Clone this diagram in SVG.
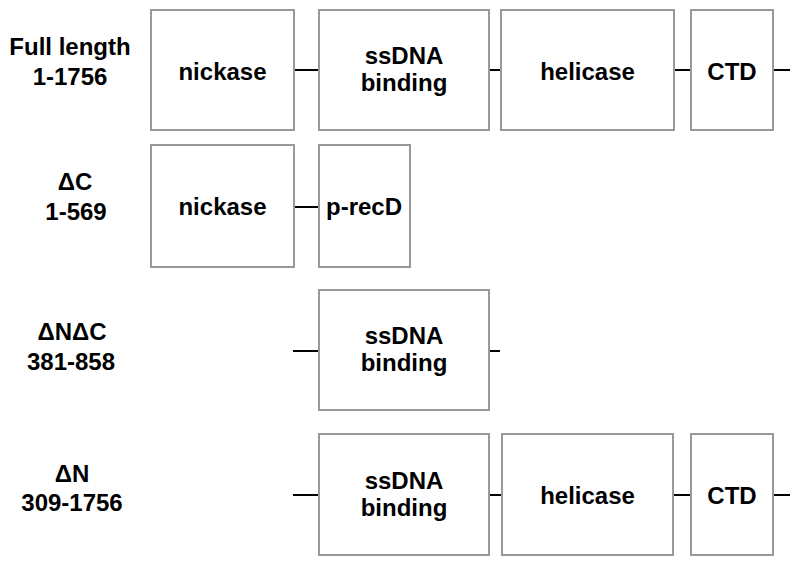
<svg xmlns="http://www.w3.org/2000/svg" width="800" height="566" viewBox="0 0 800 566">
<style>
.box{fill:#fff;stroke:#999;stroke-width:2}
.ln{stroke:#000;stroke-width:2;fill:none}
text{font-family:"Liberation Sans",Arial,sans-serif;font-weight:bold;font-size:24px;fill:#000;text-anchor:middle}
</style>
<rect width="800" height="566" fill="#fff"/>
<g id="connectors">
<line class="ln" x1="294" y1="70" x2="319" y2="70"/>
<line class="ln" x1="489" y1="70" x2="501" y2="70"/>
<line class="ln" x1="674" y1="70" x2="691" y2="70"/>
<line class="ln" x1="773" y1="70" x2="790" y2="70"/>
<line class="ln" x1="294" y1="207" x2="319" y2="207"/>
<line class="ln" x1="293" y1="351" x2="319" y2="351"/>
<line class="ln" x1="489" y1="351" x2="500" y2="351"/>
<line class="ln" x1="293" y1="495" x2="319" y2="495"/>
<line class="ln" x1="489" y1="495" x2="502" y2="495"/>
<line class="ln" x1="673" y1="495" x2="691" y2="495"/>
<line class="ln" x1="773" y1="495" x2="790" y2="495"/>
</g>
<g id="label-full"><text x="70" y="55">Full length</text><text x="70" y="85">1-1756</text></g>
<g id="label-dc"><text x="75" y="190">ΔC</text><text x="76" y="220">1-569</text></g>
<g id="label-dndc"><text x="72" y="340">ΔNΔC</text><text x="71" y="370">381-858</text></g>
<g id="label-dn"><text x="72" y="482">ΔN</text><text x="72" y="511">309-1756</text></g>
<g id="r1-nickase"><rect class="box" x="151" y="10" width="143" height="120"/><text x="222.5" y="80">nickase</text></g>
<g id="r1-ssdna"><rect class="box" x="319" y="10" width="170" height="120"/><text x="404" y="64">ssDNA</text><text x="404" y="91">binding</text></g>
<g id="r1-helicase"><rect class="box" x="501" y="10" width="173" height="120"/><text x="587.5" y="80">helicase</text></g>
<g id="r1-ctd"><rect class="box" x="691" y="10" width="82" height="120"/><text x="732" y="80">CTD</text></g>
<g id="r2-nickase"><rect class="box" x="151" y="145" width="143" height="122"/><text x="222.5" y="215">nickase</text></g>
<g id="r2-precd"><rect class="box" x="319" y="145" width="91" height="122"/><text x="364" y="215">p-recD</text></g>
<g id="r3-ssdna"><rect class="box" x="319" y="290" width="170" height="120"/><text x="404" y="344">ssDNA</text><text x="404" y="371">binding</text></g>
<g id="r4-ssdna"><rect class="box" x="319" y="434" width="170" height="121"/><text x="404" y="489">ssDNA</text><text x="404" y="516">binding</text></g>
<g id="r4-helicase"><rect class="box" x="502" y="434" width="171" height="121"/><text x="587.5" y="504">helicase</text></g>
<g id="r4-ctd"><rect class="box" x="691" y="434" width="82" height="121"/><text x="732" y="504">CTD</text></g>
</svg>
